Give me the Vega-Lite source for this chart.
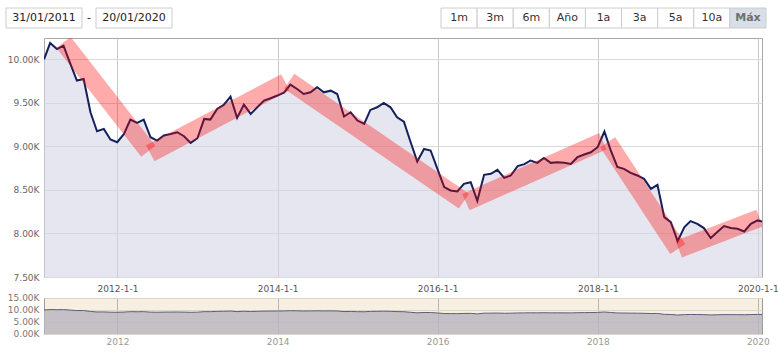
{
  "$schema": "https://vega.github.io/schema/vega-lite/v6.json",
  "background": "#ffffff",
  "padding": {"left": 5, "top": 7, "right": 0, "bottom": 0},
  "config": {"font": "DejaVu Sans", "view": {"stroke": null}},
  "datasets": {
    "series": [
      {"date": "2011-01-31", "value": 10000}, {"date": "2011-02-28", "value": 10187}, {"date": "2011-03-31", "value": 10118},
      {"date": "2011-04-30", "value": 10157}, {"date": "2011-05-31", "value": 9950}, {"date": "2011-06-30", "value": 9756},
      {"date": "2011-07-31", "value": 9774}, {"date": "2011-08-31", "value": 9392}, {"date": "2011-09-30", "value": 9174},
      {"date": "2011-10-31", "value": 9201}, {"date": "2011-11-30", "value": 9079}, {"date": "2011-12-31", "value": 9048},
      {"date": "2012-01-31", "value": 9143}, {"date": "2012-02-29", "value": 9308}, {"date": "2012-03-31", "value": 9270},
      {"date": "2012-04-30", "value": 9308}, {"date": "2012-05-31", "value": 9105}, {"date": "2012-06-30", "value": 9067},
      {"date": "2012-07-31", "value": 9125}, {"date": "2012-08-31", "value": 9143}, {"date": "2012-09-30", "value": 9163},
      {"date": "2012-10-31", "value": 9117}, {"date": "2012-11-30", "value": 9040}, {"date": "2012-12-31", "value": 9094},
      {"date": "2013-01-31", "value": 9316}, {"date": "2013-02-28", "value": 9308}, {"date": "2013-03-31", "value": 9430},
      {"date": "2013-04-30", "value": 9476}, {"date": "2013-05-31", "value": 9572}, {"date": "2013-06-30", "value": 9327},
      {"date": "2013-07-31", "value": 9480}, {"date": "2013-08-31", "value": 9373}, {"date": "2013-09-30", "value": 9449},
      {"date": "2013-10-31", "value": 9526}, {"date": "2013-11-30", "value": 9553}, {"date": "2013-12-31", "value": 9584},
      {"date": "2014-01-31", "value": 9621}, {"date": "2014-02-28", "value": 9710}, {"date": "2014-03-31", "value": 9659},
      {"date": "2014-04-30", "value": 9602}, {"date": "2014-05-31", "value": 9621}, {"date": "2014-06-30", "value": 9679},
      {"date": "2014-07-31", "value": 9621}, {"date": "2014-08-31", "value": 9640}, {"date": "2014-09-30", "value": 9602},
      {"date": "2014-10-31", "value": 9343}, {"date": "2014-11-30", "value": 9392}, {"date": "2014-12-31", "value": 9297},
      {"date": "2015-01-31", "value": 9258}, {"date": "2015-02-28", "value": 9419}, {"date": "2015-03-31", "value": 9449},
      {"date": "2015-04-30", "value": 9499}, {"date": "2015-05-31", "value": 9449}, {"date": "2015-06-30", "value": 9335},
      {"date": "2015-07-31", "value": 9285}, {"date": "2015-08-31", "value": 9048}, {"date": "2015-09-30", "value": 8827},
      {"date": "2015-10-31", "value": 8971}, {"date": "2015-11-30", "value": 8953}, {"date": "2015-12-31", "value": 8742},
      {"date": "2016-01-31", "value": 8532}, {"date": "2016-02-29", "value": 8494}, {"date": "2016-03-31", "value": 8483},
      {"date": "2016-04-30", "value": 8570}, {"date": "2016-05-31", "value": 8589}, {"date": "2016-06-30", "value": 8375},
      {"date": "2016-07-31", "value": 8673}, {"date": "2016-08-31", "value": 8685}, {"date": "2016-09-30", "value": 8730},
      {"date": "2016-10-31", "value": 8639}, {"date": "2016-11-30", "value": 8666}, {"date": "2016-12-31", "value": 8773},
      {"date": "2017-01-31", "value": 8796}, {"date": "2017-02-28", "value": 8838}, {"date": "2017-03-31", "value": 8811},
      {"date": "2017-04-30", "value": 8868}, {"date": "2017-05-31", "value": 8811}, {"date": "2017-06-30", "value": 8819},
      {"date": "2017-07-31", "value": 8811}, {"date": "2017-08-31", "value": 8799}, {"date": "2017-09-30", "value": 8876},
      {"date": "2017-10-31", "value": 8907}, {"date": "2017-11-30", "value": 8933}, {"date": "2017-12-31", "value": 8991},
      {"date": "2018-01-31", "value": 9171}, {"date": "2018-02-28", "value": 8960}, {"date": "2018-03-31", "value": 8765},
      {"date": "2018-04-30", "value": 8742}, {"date": "2018-05-31", "value": 8696}, {"date": "2018-06-30", "value": 8666},
      {"date": "2018-07-31", "value": 8627}, {"date": "2018-08-31", "value": 8512}, {"date": "2018-09-30", "value": 8558},
      {"date": "2018-10-31", "value": 8188}, {"date": "2018-11-30", "value": 8130}, {"date": "2018-12-31", "value": 7912},
      {"date": "2019-01-31", "value": 8073}, {"date": "2019-02-28", "value": 8142}, {"date": "2019-03-31", "value": 8111},
      {"date": "2019-04-30", "value": 8062}, {"date": "2019-05-31", "value": 7947}, {"date": "2019-06-30", "value": 8016},
      {"date": "2019-07-31", "value": 8085}, {"date": "2019-08-31", "value": 8062}, {"date": "2019-09-30", "value": 8054},
      {"date": "2019-10-31", "value": 8023}, {"date": "2019-11-30", "value": 8111}, {"date": "2019-12-31", "value": 8150},
      {"date": "2020-01-20", "value": 8138}
    ],
    "trends": [
      {"start": "2011-04-30", "end": "2012-05-21", "v0": 10195, "v1": 8945},
      {"start": "2012-05-30", "end": "2014-02-05", "v0": 8922, "v1": 9736},
      {"start": "2014-02-23", "end": "2016-04-30", "v0": 9748, "v1": 8372},
      {"start": "2016-05-09", "end": "2018-01-24", "v0": 8360, "v1": 9060},
      {"start": "2018-02-15", "end": "2019-01-01", "v0": 9048, "v1": 7821},
      {"start": "2019-01-05", "end": "2020-01-09", "v0": 7821, "v1": 8177}
    ],
    "dates": [{"label": "31/01/2011"}, {"label": "20/01/2020"}],
    "dash": [{"label": "-"}],
    "buttons": [
      {"label": "1m"}, {"label": "3m"}, {"label": "6m"}, {"label": "Año"}, {"label": "1a"},
      {"label": "3a"}, {"label": "5a"}, {"label": "10a"}, {"label": "Máx"}
    ]
  },
  "columns": 1,
  "spacing": -2,
  "concat": [
    {
      "columns": 1,
      "spacing": 8,
      "concat": [
        {
          "width": 722, "height": 20,
          "resolve": {"scale": {"x": "independent"}},
          "layer": [
            {
              "data": {"name": "dates"},
              "encoding": {
                "x": {"field": "label", "type": "nominal", "sort": null,
                      "scale": {"type": "band", "domain": ["31/01/2011", "20/01/2020"], "range": [-38, 128], "paddingInner": 0.1556, "paddingOuter": 0},
                      "axis": null}
              },
              "layer": [
                {"mark": {"type": "rect", "fill": "#ffffff", "stroke": "#cccccc", "strokeWidth": 1}},
                {"mark": {"type": "text", "fontSize": 11, "color": "#222222"}, "encoding": {"text": {"field": "label"}}}
              ]
            },
            {
              "data": {"name": "dash"},
              "mark": {"type": "text", "fontSize": 11, "color": "#222222"},
              "encoding": {
                "x": {"field": "label", "type": "nominal",
                      "scale": {"type": "band", "range": [38, 52], "paddingInner": 0, "paddingOuter": 0},
                      "axis": null},
                "text": {"field": "label"}
              }
            },
            {
              "data": {"name": "buttons"},
              "encoding": {
                "x": {"field": "label", "type": "nominal", "sort": null,
                      "scale": {"type": "band", "paddingInner": 0, "paddingOuter": 0, "range": [397, 722],
                                "domain": ["1m", "3m", "6m", "Año", "1a", "3a", "5a", "10a", "Máx"]},
                      "axis": null}
              },
              "layer": [
                {
                  "mark": {"type": "rect", "stroke": "#cccccc", "strokeWidth": 1},
                  "encoding": {
                    "fill": {"condition": {"test": "datum.label === 'Máx'", "value": "#d9dfe8"}, "value": "#ffffff"}
                  }
                },
                {
                  "transform": [{"filter": "datum.label !== 'Máx'"}],
                  "mark": {"type": "text", "fontSize": 11, "color": "#333333"},
                  "encoding": {"text": {"field": "label"}}
                },
                {
                  "transform": [{"filter": "datum.label === 'Máx'"}],
                  "mark": {"type": "text", "fontSize": 11, "fontWeight": "bold", "color": "#6f6f6f"},
                  "encoding": {"text": {"field": "label"}}
                }
              ]
            }
          ]
        },
        {
          "width": 718, "height": 239,
          "view": {"stroke": "#a8a8a8", "fill": "#ffffff"},
          "layer": [
            {
              "data": {"name": "series"},
              "mark": {"type": "area", "color": "#d4d6e4", "opacity": 0.6, "clip": true},
              "encoding": {
                "x": {"field": "date", "type": "temporal",
                      "scale": {"domain": [{"year": 2011, "month": 1, "date": 31}, {"year": 2020, "month": 1, "date": 20}]},
                      "axis": {"values": [{"year": 2012, "month": 1, "date": 1}, {"year": 2014, "month": 1, "date": 1}, {"year": 2016, "month": 1, "date": 1}, {"year": 2018, "month": 1, "date": 1}, {"year": 2020, "month": 1, "date": 1}],
                               "format": "%Y-%-m-%-d", "grid": true, "gridColor": "#c8c8c8", "ticks": false, "domain": false,
                               "labelFontSize": 9, "labelColor": "#555555", "labelPadding": 7, "labelFlush": false, "title": null}},
                "y": {"field": "value", "type": "quantitative",
                      "scale": {"domain": [7500, 10245], "nice": false, "zero": false},
                      "axis": {"values": [7500, 8000, 8500, 9000, 9500, 10000],
                               "labelExpr": "format(datum.value / 1000, '.2f') + 'K'",
                               "grid": true, "gridColor": "#d9d9d9", "ticks": false, "domain": false,
                               "labelFontSize": 9, "labelColor": "#666666", "labelPadding": 5, "title": null}}
              }
            },
            {
              "data": {"name": "series"},
              "mark": {"type": "line", "color": "#14205a", "strokeWidth": 2, "clip": true},
              "encoding": {
                "x": {"field": "date", "type": "temporal"},
                "y": {"field": "value", "type": "quantitative"}
              }
            },
            {
              "data": {"name": "trends"},
              "mark": {"type": "rule", "color": "#ff0000", "opacity": 0.33, "strokeWidth": 18, "strokeCap": "butt", "clip": true},
              "encoding": {
                "x": {"field": "start", "type": "temporal"},
                "x2": {"field": "end"},
                "y": {"field": "v0", "type": "quantitative"},
                "y2": {"field": "v1"}
              }
            }
          ]
        }
      ]
    },
    {
      "width": 718, "height": 36,
      "view": {"stroke": "#9a9a9a", "fill": "#f7efe2"},
      "data": {"name": "series"},
      "encoding": {
        "x": {"field": "date", "type": "temporal",
              "scale": {"domain": [{"year": 2011, "month": 1, "date": 31}, {"year": 2020, "month": 1, "date": 20}]},
              "axis": {"values": [{"year": 2012, "month": 1, "date": 1}, {"year": 2014, "month": 1, "date": 1}, {"year": 2016, "month": 1, "date": 1}, {"year": 2018, "month": 1, "date": 1}, {"year": 2020, "month": 1, "date": 1}],
                       "format": "%Y", "grid": true, "gridColor": "#b5b5b5", "ticks": false, "domain": false,
                       "labelFontSize": 9, "labelColor": "#999999", "labelPadding": 3, "labelFlush": false, "title": null}},
        "y": {"field": "value", "type": "quantitative",
              "scale": {"domain": [0, 15000], "nice": false},
              "axis": {"values": [0, 5000, 10000, 15000],
                       "labelExpr": "format(datum.value / 1000, '.2f') + 'K'",
                       "grid": true, "gridColor": "#ddd5c8", "ticks": false, "domain": false,
                       "labelFontSize": 9, "labelColor": "#777777", "labelPadding": 5, "labelOffset": -1, "title": null}}
      },
      "layer": [
        {"mark": {"type": "area", "color": "#b7b4bf", "opacity": 0.8}},
        {"mark": {"type": "line", "color": "#5a5f7a", "strokeWidth": 1}}
      ]
    }
  ]
}
